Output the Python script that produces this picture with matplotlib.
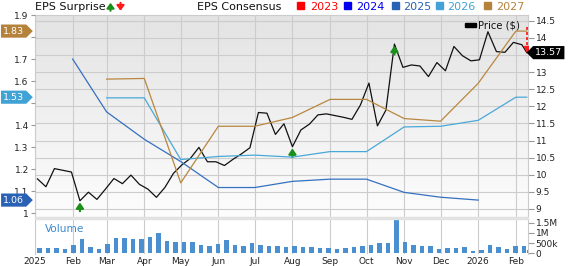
import matplotlib
matplotlib.use('Agg')
import matplotlib.pyplot as plt
import numpy as np
import pandas as pd
from matplotlib.path import Path
from matplotlib.patches import Rectangle, FancyArrowPatch
from matplotlib.colors import LinearSegmentedColormap

# weekly closes (Fridays) + last quote
price_dates = list(pd.date_range('2025-01-03', periods=58, freq='7D')) + [pd.Timestamp('2026-02-10')]
price = [9.88, 9.65, 10.18, 10.13, 10.08, 9.24, 9.49, 9.28, 9.58, 9.89,
         9.74, 9.99, 9.72, 9.58, 9.34, 9.63, 10.04, 10.29, 10.48, 10.80,
         10.38, 10.38, 10.27, 10.45, 10.61, 10.79, 11.82, 11.80, 11.18, 11.49,
         10.82, 11.31, 11.48, 11.75, 11.78, 11.73, 11.68, 11.62, 12.04, 12.68,
         11.43, 11.89, 13.82, 13.14, 13.21, 13.18, 12.87, 13.28, 13.04, 13.75,
         13.48, 13.33, 13.36, 14.18, 13.60, 13.58, 13.87, 13.80, 13.57]
volume_k = [245, 260, 277, 228, 408, 700, 310, 212, 456, 766,
            750, 685, 700, 815, 994, 587, 554, 570, 538, 408,
            375, 456, 668, 408, 375, 522, 424, 342, 375, 326,
            375, 310, 326, 277, 245, 196, 260, 326, 375, 424,
            489, 489, 1614, 538, 408, 359, 375, 196, 277, 277,
            310, 98, 147, 424, 293, 212, 375, 342, 147]

# monthly consensus estimates
cons_dates = list(pd.date_range('2025-02-01', periods=13, freq='MS')) + [pd.Timestamp('2026-02-10')]
nan = np.nan
eps_2025 = [1.70, 1.46, 1.336, 1.235, 1.117, 1.117, 1.145, 1.155, 1.155, 1.095, 1.073, 1.06, nan, nan]
eps_2026 = [nan, 1.524, 1.524, 1.244, 1.258, 1.264, 1.255, 1.28, 1.28, 1.392, 1.395, 1.422, 1.527, 1.527]
eps_2027 = [nan, 1.609, 1.612, 1.138, 1.395, 1.395, 1.435, 1.517, 1.517, 1.43, 1.418, 1.59, 1.827, 1.827]

surprise_up = ['2025-02-07', '2025-08-01', '2025-10-24']
surprise_down = '2026-02-10'

month_ticks = pd.date_range('2025-01-01', '2026-02-01', freq='MS')
month_labels = ['2025', 'Feb', 'Mar', 'Apr', 'May', 'Jun', 'Jul', 'Aug', 'Sep',
                'Oct', 'Nov', 'Dec', '2026', 'Feb']

legend_years = ['2023', '2024', '2025', '2026', '2027']
year_colors = ['#ff0000', '#0000ee', '#2962b4', '#41a2d6', '#b5823c']
line_colors = {'2025': '#3570c0', '2026': '#4aa8d8', '2027': '#b8873f'}

GRID = '#cccccc'
W, H = 568, 266
fig = plt.figure(figsize=(W / 100, H / 100), dpi=100)


def box(l, t, r, b):
    return [l / W, 1 - b / H, (r - l) / W, (b - t) / H]


def fx(x):
    return x / W


def fy(y):
    return 1 - y / H


def tag_right(x0, y0, width, height, mutation_size):
    pad = 0.22 * mutation_size
    x0, y0 = x0 - pad, y0 - pad
    width, height = width + 2 * pad, height + 2 * pad
    tip = height / 2
    return Path([(x0, y0), (x0 + width, y0), (x0 + width + tip, y0 + height / 2),
                 (x0 + width, y0 + height), (x0, y0 + height), (x0, y0)], closed=True)


def tag_left(x0, y0, width, height, mutation_size):
    pad = 0.22 * mutation_size
    x0, y0 = x0 - pad, y0 - pad
    width, height = width + 2 * pad, height + 2 * pad
    tip = height / 2
    return Path([(x0, y0), (x0 + width, y0), (x0 + width, y0 + height),
                 (x0, y0 + height), (x0 - tip, y0 + height / 2), (x0, y0)], closed=True)


def last_value(vals):
    return [v for v in vals if not np.isnan(v)][-1]


# tick labels hidden behind the value tags
eps_tags = [last_value(v) for v in (eps_2027, eps_2026, eps_2025)]


def eps_fmt(v, p):
    if any(abs(v - t) < 0.04 for t in eps_tags):
        return ''
    return f'{v:g}'


def price_fmt(v, p):
    if abs(v - price[-1]) < 0.2:
        return ''
    return f'{v:g}'


ax = fig.add_axes(box(35, 15, 528, 216.5))
axv = fig.add_axes(box(35, 219, 528, 254), sharex=ax)

# background gradient
grad = np.linspace(0, 1, 256).reshape(-1, 1)
cmap = LinearSegmentedColormap.from_list('bg', ['#e3e3e3', '#fdfdfd'])
ax.imshow(grad, cmap=cmap, extent=[0, 1, 0, 1], transform=ax.transAxes,
          aspect='auto', zorder=0)

xmin, xmax = pd.Timestamp('2025-01-01'), pd.Timestamp('2026-02-11')

# price axis (right)
ax.plot(price_dates, price, color='#111111', lw=0.9, zorder=3)
ax.set_xlim(xmin, xmax)
ax.set_ylim(8.78, 14.67)
ax.set_yticks(np.arange(9, 14.51, 0.5))
ax.yaxis.set_major_formatter(price_fmt)
ax.set_xticks(month_ticks)
ax.grid(True, color=GRID, lw=0.8)
ax.set_axisbelow(True)
for s in ['top', 'left', 'right']:
    ax.spines[s].set_color(GRID)
ax.spines['bottom'].set_visible(False)

# EPS axis (left)
axE = ax.twinx()
axE.set_ylim(0.9855, 1.9)
axE.set_yticks(np.arange(1.0, 1.91, 0.1))
axE.yaxis.set_major_formatter(eps_fmt)
for yr, vals in zip(['2025', '2026', '2027'], [eps_2025, eps_2026, eps_2027]):
    axE.plot(cons_dates, vals, color=line_colors[yr], lw=0.9)
for s in axE.spines.values():
    s.set_visible(False)

ax.yaxis.tick_right()
axE.yaxis.tick_left()
ax.tick_params(axis='y', length=4, color='#999999', labelsize=6.5, pad=1.5, labelcolor='#222222')
axE.tick_params(axis='y', length=3, color='#999999', labelsize=6.5, pad=1.5, labelcolor='#222222')
ax.tick_params(axis='x', length=0, labelbottom=False)

# surprise arrows
for d in surprise_up:
    p = price[price_dates.index(pd.Timestamp(d))]
    ax.annotate('', xy=(pd.Timestamp(d), p), xytext=(0, -7.5), textcoords='offset points',
                arrowprops=dict(arrowstyle='-|>,head_length=0.32,head_width=0.22',
                                color='#1a8f1a', lw=1.6, shrinkA=0, shrinkB=1.2),
                zorder=5)
dd = pd.Timestamp(surprise_down)
ax.plot([dd, dd], [14.32, 13.72], color='#ff1a1a', lw=1.3, ls=(0, (1.6, 1.2)), zorder=5)
ax.plot([dd], [13.67], marker='v', color='#ff1a1a', ms=5, zorder=5)

# price legend
ax.add_patch(Rectangle((0.873, 0.94), 0.021, 0.018, transform=ax.transAxes,
                       color='black', zorder=6))
ax.text(0.898, 0.949, 'Price ($)', transform=ax.transAxes, fontsize=7.2,
        va='center', ha='left', color='#111111', zorder=6)

# value tags
for last, yr in zip(eps_tags, ['2027', '2026', '2025']):
    axE.annotate(f'{last:.2f}', xy=(0, last), xycoords=('axes fraction', 'data'),
                 xytext=(-7.8, 0), textcoords='offset points', ha='right', va='center',
                 fontsize=6.8, color='white',
                 bbox=dict(boxstyle=tag_right, fc=year_colors[legend_years.index(yr)], ec='none'),
                 zorder=10, annotation_clip=False)
ax.annotate(f'{price[-1]:.2f}', xy=(1, price[-1]), xycoords=('axes fraction', 'data'),
            xytext=(5.2, 0), textcoords='offset points', ha='left', va='center',
            fontsize=6.8, color='white',
            bbox=dict(boxstyle=tag_left, fc='black', ec='none'),
            zorder=10, annotation_clip=False)

# volume panel
axv.bar(price_dates, [v * 1000 for v in volume_k], width=3.5, align='edge',
        color='#4a90d0', zorder=2)
axv.set_ylim(-34e3, 1.68e6)
axv.yaxis.tick_right()
axv.set_yticks([0, 5e5, 1e6, 1.5e6])
axv.set_yticklabels(['0', '500k', '1M', '1.5M'])
axv.set_xticks(month_ticks)
axv.set_xticklabels(month_labels)
axv.set_xlim(xmin, xmax)
axv.grid(True, axis='x', color=GRID, lw=0.8)
axv.set_axisbelow(True)
axv.tick_params(axis='x', length=0, labelsize=6.5, pad=2, labelcolor='#222222')
axv.tick_params(axis='y', length=4, color='#999999', labelsize=6.5, pad=1.5, labelcolor='#222222')
for s in ['top', 'bottom']:
    axv.spines[s].set_visible(False)
for s in ['left', 'right']:
    axv.spines[s].set_color(GRID)
axv.text(0.021, 0.72, 'Volume', transform=axv.transAxes, fontsize=7.6,
         color='#3d8ad0', va='center', ha='left')

# separator band
fig.add_artist(Rectangle((fx(35), fy(219)), fx(493), 2.5 / H, transform=fig.transFigure,
                         color='#e2e2e2', zorder=1))

# header legend
fig.text(fx(35), fy(6.6), 'EPS Surprise', fontsize=8, va='center', ha='left', color='#111111')
fig.add_artist(FancyArrowPatch((fx(110.5), fy(10.8)), (fx(110.5), fy(2.8)),
                               transform=fig.transFigure, color='#1a8f1a', lw=1.5,
                               arrowstyle='-|>,head_length=0.3,head_width=0.22',
                               mutation_scale=10, shrinkA=0, shrinkB=0))
fig.add_artist(FancyArrowPatch((fx(120.5), fy(2.8)), (fx(120.5), fy(10.8)),
                               transform=fig.transFigure, color='#ff1a1a', lw=1.5,
                               arrowstyle='-|>,head_length=0.3,head_width=0.22',
                               mutation_scale=10, shrinkA=0, shrinkB=0))
fig.text(fx(197), fy(6.6), 'EPS Consensus', fontsize=8, va='center', ha='left', color='#111111')
sq_x = [297, 344, 392, 436, 484]
txt_x = [310, 356, 403, 447, 496]
for yr, c, sx, tx in zip(legend_years, year_colors, sq_x, txt_x):
    fig.add_artist(Rectangle((fx(sx), fy(8.6)), 7 / W, 7 / H, transform=fig.transFigure, color=c))
    fig.text(fx(tx), fy(6.6), yr, fontsize=8, va='center', ha='left', color=c)

fig.savefig('out.png', dpi=100)
